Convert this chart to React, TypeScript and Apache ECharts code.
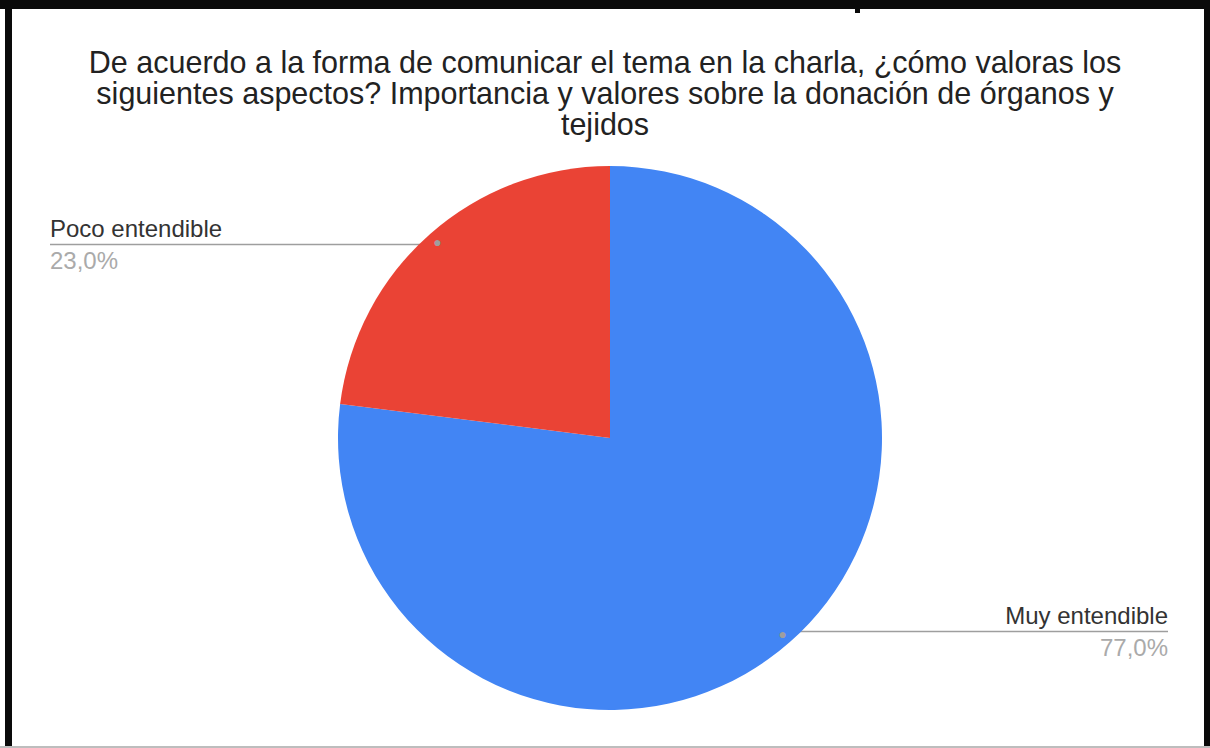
import React, { useEffect, useRef } from "react";
import * as echarts from "echarts";

const categories = ["Muy entendible", "Poco entendible"];
const values = [77, 23];
const colors = ["#4285f4", "#ea4335"];
const titleLines = [
  "De acuerdo a la forma de comunicar el tema en la charla, ¿cómo valoras los",
  "siguientes aspectos? Importancia y valores sobre la donación de órganos y",
  "tejidos",
];

const FONT = "Arial, 'Liberation Sans', Helvetica, sans-serif";
const CX = 610;
const CY = 438;
const R = 272;

export default function App() {
  const ref = useRef<HTMLDivElement>(null);
  useEffect(() => {
    const chart = echarts.init(ref.current!, null, { renderer: "svg" });
    const data = categories.map((name, i) => ({
      name,
      value: values[i],
      itemStyle: { color: colors[i] },
    }));
    const dotData = categories.map((name, i) => ({ name, value: values[i] }));
    chart.setOption({
      animation: false,
      backgroundColor: "#ffffff",
      title: {
        text: titleLines.join("\n"),
        left: "center",
        top: 41,
        textStyle: {
          fontFamily: FONT,
          fontSize: 30.5,
          fontWeight: "normal",
          color: "#222222",
          lineHeight: 31,
        },
      },
      series: [
        {
          type: "pie",
          center: [CX, CY],
          radius: R,
          startAngle: 90,
          clockwise: true,
          data,
          label: {
            show: true,
            position: "outer",
            formatter: (p: any) =>
              `{n|${p.name}}\n{p|${p.percent.toFixed(1).replace(".", ",")}%}`,
            rich: {
              n: { fontFamily: FONT, fontSize: 24, lineHeight: 32, color: "#333333" },
              p: { fontFamily: FONT, fontSize: 24, lineHeight: 32, color: "#aaaaaa" },
            },
          },
          labelLine: {
            show: true,
            lineStyle: { color: "#9e9e9e", width: 1.5 },
          },
          labelLayout: (params: any) => {
            const pts = params.labelLinePoints;
            if (!pts) return {};
            const [x0, y0] = pts[0];
            const k = 258 / R;
            const ix = CX + (x0 - CX) * k;
            const iy = CY + (y0 - CY) * k;
            const left = x0 < CX;
            const ex = left ? 50 : 1168;
            return {
              x: ex,
              y: iy,
              align: left ? "left" : "right",
              verticalAlign: "middle",
              labelLinePoints: [
                [ix, iy],
                [(ix + ex) / 2, iy],
                [ex, iy],
              ],
            };
          },
        },
        {
          type: "pie",
          center: [CX, CY],
          radius: [R - 28, R],
          startAngle: 90,
          clockwise: true,
          silent: true,
          z: 3,
          data: dotData,
          itemStyle: { color: "rgba(0,0,0,0)", borderWidth: 0 },
          label: {
            show: true,
            position: "inside",
            formatter: "●",
            fontSize: 14,
            color: "#9e9e9e",
          },
          labelLine: { show: false },
        },
      ],
      graphic: [
        { type: "rect", z: 100, shape: { x: 0, y: 0, width: 1210, height: 9 }, style: { fill: "#0a0a0a" } },
        { type: "rect", z: 100, shape: { x: 5, y: 0, width: 7, height: 748 }, style: { fill: "#0a0a0a" } },
        { type: "rect", z: 100, shape: { x: 1204, y: 0, width: 6, height: 748 }, style: { fill: "#0a0a0a" } },
        { type: "rect", z: 100, shape: { x: 0, y: 746, width: 1210, height: 2 }, style: { fill: "#bdbdbd" } },
        { type: "rect", z: 100, shape: { x: 855, y: 0, width: 5, height: 13 }, style: { fill: "#0a0a0a" } },
      ],
    });
    return () => chart.dispose();
  }, []);
  return (
    <div
      ref={ref}
      style={{ position: "fixed", left: 0, top: 0, width: 1210, height: 748, background: "#fff" }}
    />
  );
}
